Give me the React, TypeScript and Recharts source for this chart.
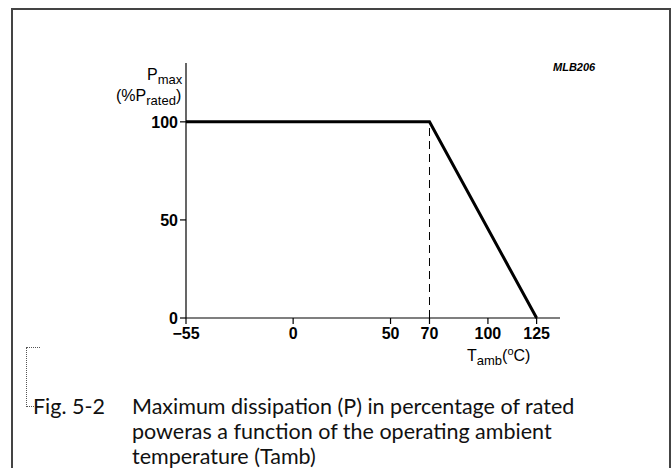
import React from 'react';
import { LineChart, Line, XAxis, YAxis, ReferenceLine, Label } from 'recharts';

// --- DATA ---
const temps = [-55, 70, 125];
const power = [100, 100, 0];
const xTicks = [-55, 0, 50, 70, 100, 125];
const yTicks = [0, 50, 100];
const kneeTemp = 70;

const curve = temps.map((t, i) => ({ t, p: power[i] }));

const axisFont = { fontFamily: '"Liberation Sans", Arial, sans-serif', fontWeight: 700, fontSize: 16, fill: '#000' };

const fmtX = (v: number) => (v < 0 ? `\u2212${Math.abs(v)}` : `${v}`);

const YLabel = () => (
  <g style={{ fontFamily: '"Liberation Sans", Arial, sans-serif', fontSize: 16, fill: '#000' }}>
    <text x={147} y={80}>
      P<tspan fontSize={13} dy={4}>max</tspan>
    </text>
    <text x={116} y={101}>
      (%P<tspan fontSize={13} dy={4}>rated</tspan>
      <tspan dy={-4}>)</tspan>
    </text>
  </g>
);

const XLabel = () => (
  <g style={{ fontFamily: '"Liberation Sans", Arial, sans-serif', fontSize: 16, fill: '#000' }}>
    <text x={467} y={361}>
      T<tspan fontSize={13} dy={4}>amb</tspan>
      <tspan dy={-4}>(</tspan>
      <tspan fontSize={11} dy={-6}>o</tspan>
      <tspan dy={6}>C)</tspan>
    </text>
    <text x={553} y={71} fontSize={11} fontStyle="italic" fontWeight={700}>MLB206</text>
  </g>
);

const App: React.FC = () => {
  return (
    <div style={{ position: 'absolute', left: 0, top: 0, width: 672, height: 468, background: '#fff', overflow: 'hidden' }}>
      {/* frame */}
      <div style={{ position: 'absolute', left: 11, top: 8, width: 656, height: 480, border: '2px solid #444', borderBottom: 'none' }} />

      <div style={{ position: 'absolute', left: 0, top: 0 }}>
        <LineChart width={672} height={468} data={curve} margin={{ top: 63, right: 112, bottom: 110, left: 126 }}>
          <XAxis
            dataKey="t"
            type="number"
            domain={[-55, 137]}
            ticks={xTicks}
            tickFormatter={fmtX}
            tick={axisFont}
            tickSize={6}
            tickMargin={4}
            stroke="#000"
            strokeWidth={1.2}
            height={40}
            interval={0}
          >
            <Label content={<XLabel />} />
          </XAxis>
          <YAxis
            type="number"
            domain={[0, 130]}
            ticks={yTicks}
            tick={axisFont}
            tickSize={6}
            stroke="#000"
            strokeWidth={1.2}
            width={60}
            interval={0}
          >
            <Label content={<YLabel />} />
          </YAxis>
          <ReferenceLine
            segment={[{ x: kneeTemp, y: 0 }, { x: kneeTemp, y: 100 }]}
            stroke="#000"
            strokeWidth={1}
            strokeDasharray="8 5"
          />
          <Line
            type="linear"
            dataKey="p"
            stroke="#000"
            strokeWidth={3}
            dot={false}
            isAnimationActive={false}
          />
        </LineChart>
      </div>

      {/* dotted bracket */}
      <div style={{ position: 'absolute', left: 26, top: 347, width: 14, height: 0, borderTop: '1px dotted #555' }} />
      <div style={{ position: 'absolute', left: 26, top: 347, width: 7, height: 59, borderLeft: '1px dotted #555', borderBottom: '1px dotted #555' }} />

      {/* caption */}
      <div style={{ position: 'absolute', left: 33, top: 394, fontFamily: 'Lato, "Open Sans", sans-serif', fontSize: 21.5, lineHeight: '25px', color: '#111' }}>
        <div style={{ display: 'flex' }}>
          <span style={{ width: 99 }}>Fig. 5-2</span>
          <span>
            Maximum dissipation (P) in percentage of rated<br />
            poweras a function of the operating ambient<br />
            temperature (Tamb)
          </span>
        </div>
      </div>
    </div>
  );
};

export default App;
